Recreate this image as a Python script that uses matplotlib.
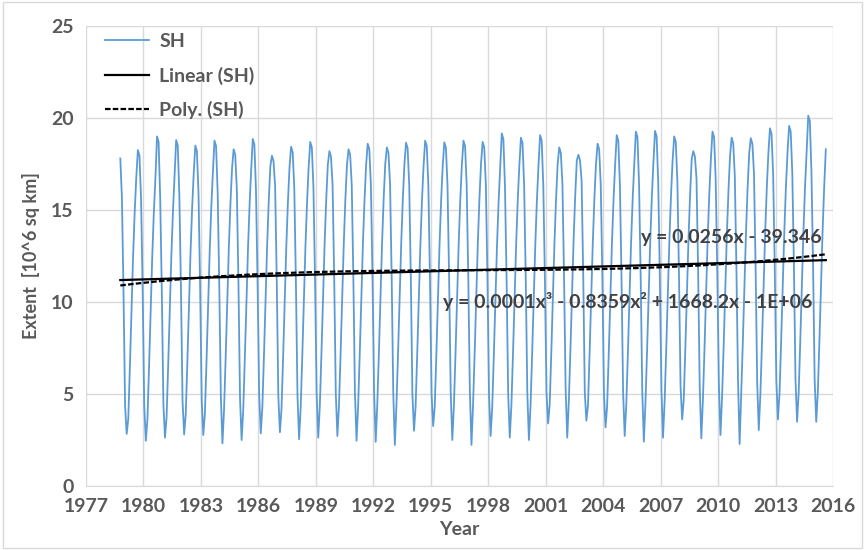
import numpy as np
import matplotlib
matplotlib.use("Agg")
import matplotlib.pyplot as plt
from matplotlib.patches import Rectangle

# monthly SH sea ice extent [10^6 sq km], Oct 1978 .. Aug 2015
start_year = 1978
start_month = 10
extent = [
    17.8, 15.7, 10.6,  # 1978 (Oct-Dec)
    4.35, 2.83, 3.65, 6.45, 9.55, 12.45, 14.85, 16.75, 18.26, 17.96, 15.65, 10.65,  # 1979
    4.33, 2.46, 3.63, 6.43, 9.53, 12.43, 14.83, 16.73, 19.00, 18.70, 15.63, 10.63,  # 1980
    4.45, 2.63, 3.75, 6.55, 9.65, 12.55, 14.95, 16.85, 18.80, 18.50, 15.75, 10.75,  # 1981
    4.60, 2.80, 3.90, 6.70, 9.80, 12.70, 15.10, 17.00, 18.50, 18.20, 15.90, 10.90,  # 1982
    4.64, 2.77, 3.94, 6.74, 9.84, 12.74, 15.14, 17.04, 18.77, 18.47, 15.94, 10.94,  # 1983
    4.85, 2.32, 4.15, 6.95, 10.05, 12.95, 15.35, 17.25, 18.30, 18.00, 16.15, 11.15,  # 1984
    4.78, 2.50, 4.08, 6.88, 9.98, 12.88, 15.28, 17.18, 18.86, 18.56, 16.08, 11.08,  # 1985
    4.98, 2.86, 4.28, 7.08, 10.18, 13.08, 15.48, 17.38, 17.95, 17.65, 16.28, 11.28,  # 1986
    4.90, 2.92, 4.20, 7.00, 10.10, 13.00, 15.40, 17.30, 18.44, 18.14, 16.20, 11.20,  # 1987
    4.93, 2.54, 4.23, 7.03, 10.13, 13.03, 15.43, 17.33, 18.70, 18.40, 16.23, 11.23,  # 1988
    5.05, 2.63, 4.35, 7.15, 10.25, 13.15, 15.55, 17.45, 18.20, 17.90, 16.35, 11.35,  # 1989
    5.06, 2.72, 4.36, 7.16, 10.26, 13.16, 15.56, 17.46, 18.30, 18.00, 16.36, 11.36,  # 1990
    5.05, 2.46, 4.35, 7.15, 10.25, 13.15, 15.55, 17.45, 18.60, 18.30, 16.35, 11.35,  # 1991
    5.12, 2.40, 4.42, 7.22, 10.32, 13.22, 15.62, 17.52, 18.40, 18.10, 16.42, 11.42,  # 1992
    5.09, 2.23, 4.39, 7.19, 10.29, 13.19, 15.59, 17.49, 18.66, 18.36, 16.39, 11.39,  # 1993
    5.01, 3.00, 4.31, 7.11, 10.21, 13.11, 15.51, 17.41, 18.77, 18.47, 16.31, 11.31,  # 1994
    5.02, 3.26, 4.32, 7.12, 10.22, 13.12, 15.52, 17.42, 18.68, 18.38, 16.32, 11.32,  # 1995
    5.07, 2.50, 4.37, 7.17, 10.27, 13.17, 15.57, 17.47, 18.77, 18.47, 16.37, 11.37,  # 1996
    5.13, 2.23, 4.43, 7.23, 10.33, 13.23, 15.63, 17.53, 18.70, 18.40, 16.43, 11.43,  # 1997
    4.96, 2.72, 4.26, 7.06, 10.16, 13.06, 15.46, 17.36, 19.16, 18.86, 16.26, 11.26,  # 1998
    5.03, 2.63, 4.33, 7.13, 10.23, 13.13, 15.53, 17.43, 18.93, 18.63, 16.33, 11.33,  # 1999
    5.03, 2.50, 4.33, 7.13, 10.23, 13.13, 15.53, 17.43, 19.07, 18.77, 16.33, 11.33,  # 2000
    5.10, 3.40, 4.40, 7.20, 10.30, 13.20, 15.60, 17.50, 18.40, 18.10, 16.40, 11.40,  # 2001
    5.29, 2.63, 4.59, 7.39, 10.49, 13.39, 15.79, 17.69, 18.00, 17.70, 16.59, 11.59,  # 2002
    5.08, 3.55, 4.38, 7.18, 10.28, 13.18, 15.58, 17.48, 18.60, 18.30, 16.38, 11.38,  # 2003
    5.05, 3.19, 4.35, 7.15, 10.25, 13.15, 15.55, 17.45, 19.07, 18.77, 16.35, 11.35,  # 2004
    5.11, 2.72, 4.41, 7.21, 10.31, 13.21, 15.61, 17.51, 19.26, 18.96, 16.41, 11.41,  # 2005
    5.19, 2.41, 4.49, 7.29, 10.39, 13.29, 15.69, 17.59, 19.30, 19.00, 16.49, 11.49,  # 2006
    5.26, 2.63, 4.56, 7.36, 10.46, 13.36, 15.76, 17.66, 19.00, 18.70, 16.56, 11.56,  # 2007
    5.40, 3.62, 4.70, 7.50, 10.60, 13.50, 15.90, 17.80, 18.20, 17.90, 16.70, 11.70,  # 2008
    5.37, 2.59, 4.67, 7.47, 10.57, 13.47, 15.87, 17.77, 19.26, 18.96, 16.67, 11.67,  # 2009
    5.53, 2.77, 4.83, 7.63, 10.73, 13.63, 16.03, 17.93, 18.93, 18.63, 16.83, 11.83,  # 2010
    5.69, 2.28, 4.99, 7.79, 10.89, 13.79, 16.19, 18.09, 18.90, 18.60, 16.99, 11.99,  # 2011
    5.65, 3.04, 4.95, 7.75, 10.85, 13.75, 16.15, 18.05, 19.44, 19.14, 16.95, 11.95,  # 2012
    5.73, 3.62, 5.03, 7.83, 10.93, 13.83, 16.23, 18.13, 19.57, 19.27, 17.03, 12.03,  # 2013
    5.78, 3.49, 5.08, 7.88, 10.98, 13.88, 16.28, 18.18, 20.13, 19.83, 17.08, 12.08,  # 2014
    5.80, 3.49, 5.10, 7.90, 11.00, 13.90, 16.30, 18.30,  # 2015 (Jan-Aug)
]
x_ticks = list(range(1977, 2017, 3))
y_ticks = [0, 5, 10, 15, 20, 25]
lin_eq = "y = 0.0256x - 39.346"
poly_eq = "y = 0.0001x\u00b3 - 0.8359x\u00b2 + 1668.2x - 1E+06"

plt.rcParams['font.family'] = ['Lato', 'DejaVu Sans']
plt.rcParams['font.weight'] = 'bold'
gray = '#595959'

y = np.array(extent)
x = start_year + (start_month - 1 + np.arange(len(y)) + 0.5) / 12.0

# trendlines fitted to the data (centred x for stability)
xc = x - 1997
lin = np.polyval(np.polyfit(xc, y, 1), xc)
poly = np.polyval(np.polyfit(xc, y, 3), xc)

fig = plt.figure(figsize=(8.65, 5.5), dpi=100)
ax = fig.add_axes([0.0994, 0.1164, 0.8636, 0.8363])

ax.plot(x, y, color='#5b9bd5', lw=1.3, label='SH')
ax.plot(x, lin, color='black', lw=1.6, label='Linear (SH)')
ax.plot(x, poly, color='black', lw=1.6, ls=(0, (2.5, 1)), label='Poly. (SH)')

ax.set_xlim(1977, 2016)
ax.set_ylim(0, 25)
ax.set_xticks(x_ticks)
ax.set_yticks(y_ticks)
ax.tick_params(length=0, labelsize=14, labelcolor=gray, pad=9)
for lbl in ax.get_xticklabels() + ax.get_yticklabels():
    lbl.set_fontweight('bold')
ax.grid(True, color='#d9d9d9', lw=1)
ax.set_axisbelow(True)
for s in ['top', 'right', 'left']:
    ax.spines[s].set_visible(False)
ax.spines['bottom'].set_color('#d9d9d9')

ax.set_xlabel('Year', fontsize=14, fontweight='bold', color=gray, labelpad=4)
ax.set_ylabel('Extent  [10^6 sq km]', fontsize=13, fontweight='bold', color=gray, labelpad=8)

ax.text(2010.7, 13.5, lin_eq, fontsize=14, color='#404040', ha='center', va='center')
ax.text(2005.3, 10.0, poly_eq, fontsize=14, color='#404040', ha='center', va='center')

leg = ax.legend(loc='upper left', bbox_to_anchor=(0.025, 0.985), frameon=False,
                fontsize=14, handlelength=2.3, handletextpad=0.5,
                labelspacing=0.85, borderpad=0, borderaxespad=0)
for t in leg.get_texts():
    t.set_color(gray)

fig.patches.append(Rectangle((0.003, 0.004), 0.993, 0.992, transform=fig.transFigure,
                             fill=False, edgecolor='#d9d9d9', lw=1))

fig.savefig('out.png', dpi=100)
